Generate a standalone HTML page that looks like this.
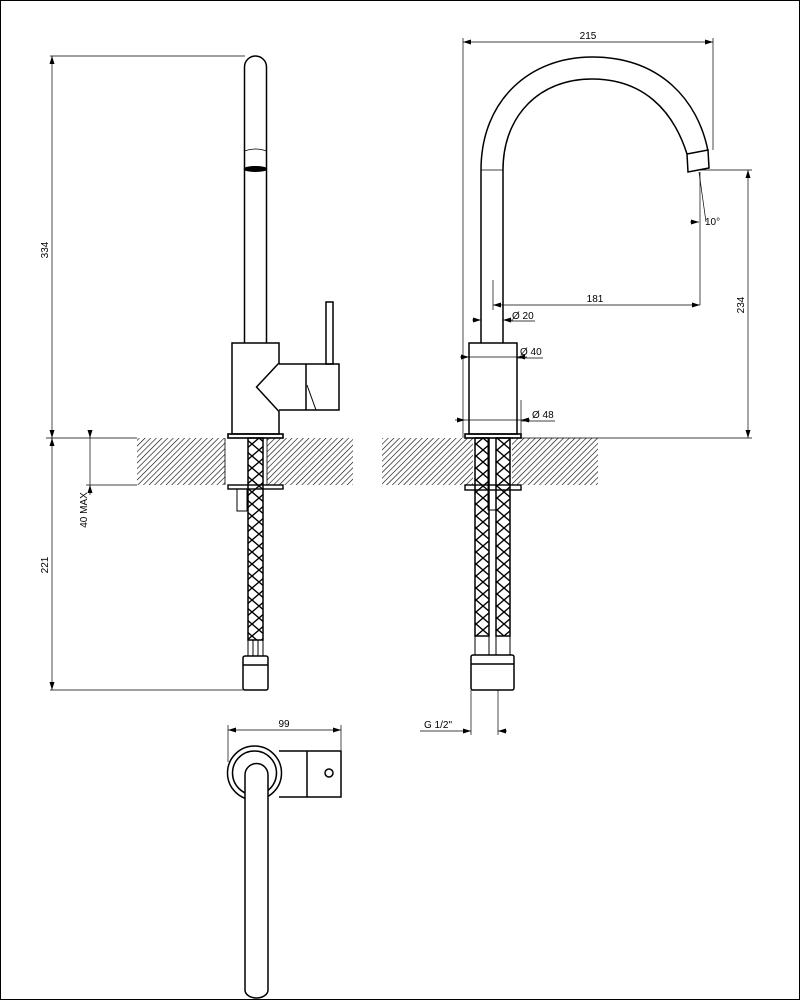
<!DOCTYPE html>
<html><head><meta charset="utf-8"><style>
html,body{margin:0;padding:0;background:#fff}
svg{display:block}
text{font-family:"Liberation Sans",sans-serif;font-size:10px;fill:#000}
</style></head><body>
<svg width="801" height="1000" viewBox="0 0 801 1000" xmlns="http://www.w3.org/2000/svg">
<defs>
<pattern id="hatch" patternUnits="userSpaceOnUse" width="4" height="4" patternTransform="rotate(45)">
<line x1="0" y1="0" x2="0" y2="4" stroke="#000" stroke-width="1.2"/>
</pattern>
<pattern id="braid" patternUnits="userSpaceOnUse" width="14" height="12">
<path d="M0,0 L14,12 M14,0 L0,12" stroke="#000" stroke-width="1.4" fill="none"/>
</pattern>
<marker id="a" markerWidth="8" markerHeight="6" refX="8" refY="3" orient="auto-start-reverse" markerUnits="userSpaceOnUse">
<path d="M0,0.5 L8,3 L0,5.5 z" fill="#000"/>
</marker>
</defs>
<rect x="0.5" y="0.5" width="799" height="999" fill="none" stroke="#000" stroke-width="1"/>

<g fill="none" stroke="#000" stroke-width="1.5">
<!-- LEFT VIEW -->
<path d="M244.5,343 V67 A11,11 0 0 1 266.5,67 V343"/>
<path d="M244.5,151 Q255.5,147 266.5,151" stroke-width="0.8"/>
<ellipse cx="255.5" cy="169" rx="11" ry="2.2" fill="#000"/>
<path d="M232,434 V343 H279 V363 L256.5,387 L279,411.5 V434 Z"/>
<path d="M279,364 H339 V410 H279"/>
<line x1="306" y1="364" x2="306" y2="410"/>
<path d="M307,385 L316,410" stroke-width="1"/>
<rect x="326" y="302" width="7" height="62"/>
<rect x="228" y="434" width="55" height="4" stroke-width="1.6"/>
<rect x="137" y="438" width="88" height="47" fill="url(#hatch)" stroke="none"/>
<rect x="267" y="438" width="86" height="47" fill="url(#hatch)" stroke="none"/>
<line x1="225" y1="438" x2="225" y2="485" stroke-width="0.8"/>
<line x1="267" y1="438" x2="267" y2="485" stroke-width="0.8"/>
<rect x="228" y="485" width="55" height="4" stroke-width="1.4"/>
<rect x="237" y="489" width="10" height="22" stroke-width="1"/>
<rect x="248" y="438" width="15" height="202" fill="url(#braid)"/>
<rect x="248" y="640" width="15" height="16" stroke-width="1"/>
<line x1="253" y1="640" x2="253" y2="656" stroke-width="1"/>
<line x1="258" y1="640" x2="258" y2="656" stroke-width="1"/>
<rect x="243" y="656" width="25" height="34" rx="2"/>
<line x1="243" y1="665" x2="268" y2="665"/>

<!-- RIGHT VIEW -->
<path d="M481,343 V170 C481,100 530,57 592,57 C660,57 698,100 708,151"/>
<path d="M503,343 V170 C503,115 540,79 592,79 C643,79 673,110 687,154"/>
<line x1="481" y1="170" x2="503" y2="170" stroke-width="0.8"/>
<path d="M687,154 L708,150 L709,168 L688,172 Z"/>
<rect x="469" y="343" width="48" height="91"/>
<rect x="465" y="434" width="56" height="4" stroke-width="1.6"/>
<rect x="382" y="438" width="91" height="47" fill="url(#hatch)" stroke="none"/>
<rect x="512" y="438" width="86" height="47" fill="url(#hatch)" stroke="none"/>
<rect x="465" y="485" width="56" height="5" stroke-width="1.4"/>
<rect x="488" y="438" width="8" height="72" stroke-width="1"/>
<rect x="475" y="438" width="14" height="198" fill="url(#braid)"/>
<rect x="496" y="438" width="14" height="198" fill="url(#braid)"/>
<rect x="475" y="636" width="14" height="19" stroke-width="1"/>
<rect x="496" y="636" width="14" height="19" stroke-width="1"/>
<rect x="471" y="655" width="43" height="35" rx="2"/>
<line x1="471" y1="664" x2="514" y2="664"/>

<!-- TOP VIEW -->
<circle cx="254.5" cy="773" r="27"/>
<circle cx="254.5" cy="773" r="22"/>
<path d="M279,751 H341 V797 H279"/>
<line x1="307" y1="751" x2="307" y2="797"/>
<circle cx="329" cy="773" r="4"/>
<path d="M245,990 V775 A11.5,11.5 0 0 1 268,775 V990 A11.5,8 0 0 1 245,990 Z" fill="#fff"/>
</g>

<!-- DIMENSIONS -->
<g fill="none" stroke="#000" stroke-width="0.7">
<line x1="50" y1="56" x2="245" y2="56"/>
<line x1="52" y1="56" x2="52" y2="438" marker-start="url(#a)" marker-end="url(#a)"/>
<line x1="46" y1="438" x2="137" y2="438"/>
<line x1="52" y1="438" x2="52" y2="690" marker-start="url(#a)" marker-end="url(#a)"/>
<line x1="50" y1="690" x2="243" y2="690"/>
<line x1="90" y1="430" x2="90" y2="438" marker-end="url(#a)"/>
<line x1="90" y1="438" x2="90" y2="485"/>
<line x1="90" y1="495" x2="90" y2="485" marker-end="url(#a)"/>
<line x1="86" y1="485" x2="137" y2="485"/>

<line x1="463" y1="38" x2="463" y2="438"/>
<line x1="713" y1="38" x2="713" y2="150"/>
<line x1="463" y1="42" x2="713" y2="42" marker-start="url(#a)" marker-end="url(#a)"/>
<line x1="700" y1="170" x2="752" y2="170"/>
<line x1="521" y1="438" x2="752" y2="438"/>
<line x1="748" y1="170" x2="748" y2="438" marker-start="url(#a)" marker-end="url(#a)"/>
<line x1="700" y1="172" x2="700" y2="305"/>
<line x1="493" y1="280" x2="493" y2="310"/>
<line x1="493" y1="305" x2="700" y2="305" marker-start="url(#a)" marker-end="url(#a)"/>
<line x1="699" y1="172" x2="706" y2="222"/>
<line x1="690" y1="222" x2="699" y2="222" marker-end="url(#a)"/>
<line x1="472" y1="320" x2="481" y2="320" marker-end="url(#a)"/>
<line x1="513" y1="320" x2="503" y2="320" marker-end="url(#a)"/>
<line x1="510" y1="321" x2="535" y2="321"/>
<line x1="460" y1="357" x2="469" y2="357" marker-end="url(#a)"/>
<line x1="469" y1="357" x2="517" y2="357"/>
<line x1="527" y1="357" x2="517" y2="357" marker-end="url(#a)"/>
<line x1="517" y1="358" x2="543" y2="358"/>
<line x1="455" y1="420" x2="465" y2="420" marker-end="url(#a)"/>
<line x1="465" y1="420" x2="521" y2="420"/>
<line x1="530" y1="420" x2="521" y2="420" marker-end="url(#a)"/>
<line x1="521" y1="421" x2="555" y2="421"/>
<line x1="521" y1="400" x2="521" y2="438"/>
<line x1="471" y1="690" x2="471" y2="735"/>
<line x1="498" y1="690" x2="498" y2="735"/>
<line x1="420" y1="731" x2="471" y2="731" marker-end="url(#a)"/>
<line x1="507" y1="731" x2="498" y2="731" marker-end="url(#a)"/>
<line x1="228" y1="725" x2="228" y2="762"/>
<line x1="341" y1="725" x2="341" y2="750"/>
<line x1="228" y1="730" x2="341" y2="730" marker-start="url(#a)" marker-end="url(#a)"/>
</g>

<text x="588" y="39" text-anchor="middle">215</text>
<text x="595" y="302" text-anchor="middle">181</text>
<text x="705" y="225">10°</text>
<text x="512" y="319">Ø 20</text>
<text x="520" y="355">Ø 40</text>
<text x="532" y="418">Ø 48</text>
<text x="424" y="728">G 1/2"</text>
<text x="284" y="727" text-anchor="middle">99</text>
<text transform="translate(48,250) rotate(-90)" text-anchor="middle">334</text>
<text transform="translate(48,565) rotate(-90)" text-anchor="middle">221</text>
<text transform="translate(87,510) rotate(-90)" text-anchor="middle">40 MAX</text>
<text transform="translate(744,305) rotate(-90)" text-anchor="middle">234</text>
</svg>
</body></html>
